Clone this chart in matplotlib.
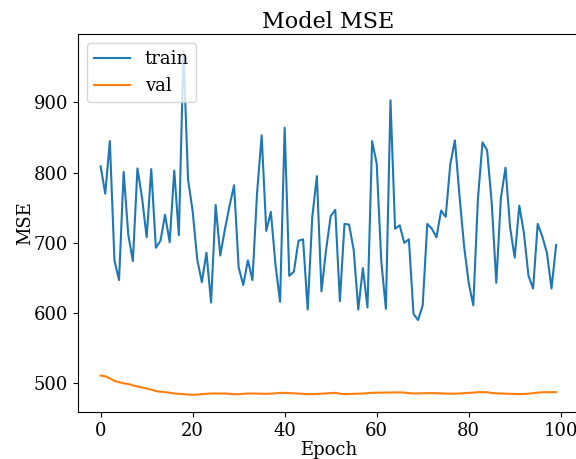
import matplotlib
matplotlib.use("Agg")
import matplotlib.pyplot as plt
import numpy as np

epochs = list(range(100))

train = [809, 770, 845, 675, 647, 801, 712, 674, 806, 764,
         708, 805, 693, 703, 740, 701, 803, 711, 973, 790,
         745, 676, 644, 686, 615, 754, 682, 719, 752, 782,
         665, 640, 675, 647, 771, 853, 717, 744, 669, 616,
         864, 653, 659, 703, 705, 605, 737, 795, 631, 690,
         738, 747, 617, 727, 726, 690, 605, 664, 608, 845,
         813, 674, 606, 903, 720, 725, 700, 705, 599, 590,
         611, 727, 720, 708, 746, 737, 812, 846, 767, 695,
         643, 611, 762, 843, 832, 757, 643, 764, 807, 722,
         679, 753, 714, 653, 635, 727, 709, 686, 635, 697]

val = [511.0, 510.0, 507.0, 503.5, 501.6, 500.0, 499.0, 497.0, 495.5, 494.0,
       492.6, 491.0, 489.0, 488.0, 487.5, 486.5, 485.5, 485.0, 484.5, 484.0,
       483.6, 484.0, 484.5, 485.0, 485.5, 485.5, 485.5, 485.5, 485.0, 484.5,
       484.5, 485.0, 485.5, 485.5, 485.3, 485.2, 485.0, 485.3, 485.8, 486.4,
       486.4, 486.0, 485.7, 485.3, 485.0, 484.5, 484.5, 484.8, 485.2, 485.6,
       486.0, 486.4, 485.2, 484.6, 484.8, 485.0, 485.2, 485.4, 486.0, 486.5,
       486.6, 486.7, 486.8, 486.9, 487.0, 487.0, 486.8, 486.0, 485.5, 485.6,
       485.8, 485.9, 486.0, 485.8, 485.6, 485.4, 485.3, 485.2, 485.5, 485.9,
       486.3, 486.8, 487.3, 487.5, 487.2, 486.2, 485.7, 485.5, 485.3, 485.0,
       484.8, 484.6, 484.8, 485.2, 486.0, 486.8, 487.2, 487.3, 487.4, 487.4]

plt.rcParams['font.family'] = ['DejaVu Serif']

fig = plt.figure(figsize=(5.76, 4.59), dpi=100)
ax = fig.add_axes([0.1352, 0.1024, 0.8698, 0.8236])
ax.plot(epochs, train, label='train')
ax.plot(epochs, val, label='val')
ax.set_title('Model MSE', fontsize=16, pad=4.5)
ax.set_xlabel('Epoch', fontsize=13, labelpad=1)
ax.set_ylabel('MSE', fontsize=13, labelpad=0)
ax.tick_params(labelsize=13)
ax.set_yticks([500, 600, 700, 800, 900])
ax.legend(loc='upper left', fontsize=13)
fig.savefig('out.png', dpi=100)
